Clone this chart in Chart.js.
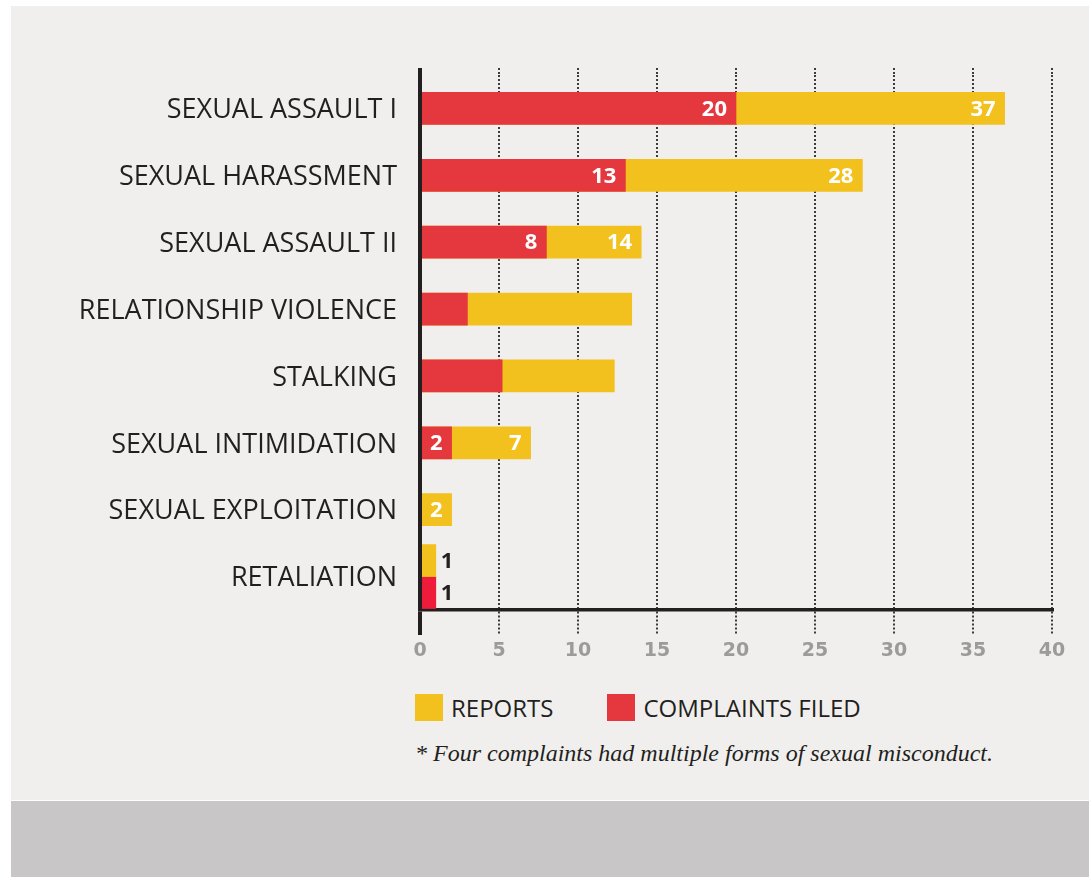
<!DOCTYPE html>
<html>
<head>
<meta charset="utf-8">
<script src="https://cdn.jsdelivr.net/npm/chart.js@4.4.1/dist/chart.umd.min.js"></script>
<style>
  body { margin: 0; background: #fff; width: 1089px; height: 877px; overflow: hidden; position: relative; }
  #panel { position: absolute; left: 11px; top: 6px; width: 1078px; height: 794px; background: #f0efed; }
  #band { position: absolute; left: 11px; top: 801px; width: 1078px; height: 76px; background: #c8c6c7; }
  #chart { position: absolute; left: 0; top: 0; }
  #legend { position: absolute; left: 415px; top: 691px; display: flex; align-items: center;
            font-family: "Open Sans", sans-serif; font-size: 24px; color: #231f20; }
  .item { display: flex; align-items: center; margin-right: 54px; }
  .box { width: 28px; height: 27px; margin-right: 8px; }
  #note { position: absolute; left: 415px; top: 740px; font-family: "Liberation Serif", serif;
          font-style: italic; font-size: 24px; color: #231f20; white-space: nowrap; }
</style>
</head>
<body>
<div id="panel"></div>
<div id="band"></div>
<canvas id="chart" width="1089" height="690"></canvas>
<div id="legend"></div>
<div id="note">* Four complaints had multiple forms of sexual misconduct.</div>
<script>
// categorias y valores
const categories = ['SEXUAL ASSAULT I', 'SEXUAL HARASSMENT', 'SEXUAL ASSAULT II', 'RELATIONSHIP VIOLENCE',
                    'STALKING', 'SEXUAL INTIMIDATION', 'SEXUAL EXPLOITATION', 'RETALIATION'];
const reports    = [37, 28, 14, 13.4, 12.3, 7, 2, 1];
const complaints = [20, 13, 8, 3, 5.2, 2, 0, 1];
const showValue  = [true, true, true, false, false, true, true, true];
const sideBySide = [false, false, false, false, false, false, false, true];
const xTicks     = [0, 5, 10, 15, 20, 25, 30, 35, 40];

const RED = '#e4373e';
const RED_SPLIT = '#ee1c3a';
const YELLOW = '#f3c11d';
const DARK = '#231f20';

// leyenda en html
const legendItems = [
    { label: 'REPORTS', color: YELLOW },
    { label: 'COMPLAINTS FILED', color: RED }
];
document.getElementById('legend').innerHTML = legendItems.map(it =>
    `<div class="item"><div class="box" style="background:${it.color}"></div><span>${it.label}</span></div>`
).join('');

// filas superpuestas vs filas lado a lado
const overComplaints = complaints.map((v, i) => (sideBySide[i] || !v) ? null : v);
const overReports    = reports.map((v, i) => sideBySide[i] ? null : v);
const splitReports   = reports.map((v, i) => sideBySide[i] ? v : null);
const splitComplaints = complaints.map((v, i) => sideBySide[i] ? v : null);

const isZero = ctx => ctx.tick && ctx.tick.value === 0;

const valueLabels = {
    id: 'valueLabels',
    afterDatasetsDraw(chart) {
        const ctx = chart.ctx;
        ctx.save();
        ctx.font = 'bold 22px "Open Sans", sans-serif';
        ctx.textBaseline = 'middle';
        chart.data.datasets.forEach((ds, di) => {
            const meta = chart.getDatasetMeta(di);
            meta.data.forEach((bar, i) => {
                const v = ds.data[i];
                if (v == null || !showValue[i]) return;
                if (ds.split) {
                    ctx.fillStyle = DARK;
                    ctx.textAlign = 'left';
                    ctx.fillText(String(v), bar.x + 5, bar.y + 1);
                } else {
                    ctx.fillStyle = '#fff';
                    ctx.textAlign = 'right';
                    ctx.fillText(String(v), bar.x - 9, bar.y + 1);
                }
            });
        });
        ctx.restore();
    }
};

// prolonga la rejilla un poco por encima del area
const gridTop = {
    id: 'gridTop',
    afterDraw(chart) {
        const ctx = chart.ctx;
        const x = chart.scales.x;
        const top = chart.chartArea.top;
        ctx.save();
        xTicks.forEach(t => {
            const px = Math.round(x.getPixelForValue(t));
            ctx.beginPath();
            if (t === 0) {
                ctx.setLineDash([]);
                ctx.lineWidth = 4;
            } else {
                ctx.setLineDash([2, 2]);
                ctx.lineWidth = 2;
            }
            ctx.strokeStyle = t === 0 ? DARK : '#3c3c3c';
            ctx.moveTo(px, top - 7);
            ctx.lineTo(px, top);
            ctx.stroke();
        });
        ctx.restore();
    }
};

new Chart(document.getElementById('chart'), {
    type: 'bar',
    data: {
        labels: categories,
        datasets: [
            { label: 'COMPLAINTS FILED', data: overComplaints, backgroundColor: RED, grouped: false },
            { label: 'REPORTS', data: overReports, backgroundColor: YELLOW, grouped: false },
            { label: 'REPORTS', data: splitReports, backgroundColor: YELLOW, split: true },
            { label: 'COMPLAINTS FILED', data: splitComplaints, backgroundColor: RED_SPLIT, split: true }
        ]
    },
    options: {
        indexAxis: 'y',
        responsive: false,
        animation: false,
        barThickness: 32,
        layout: { padding: { left: 0, right: 37, top: 75, bottom: 0 } },
        plugins: { legend: { display: false }, tooltip: { enabled: false } },
        scales: {
            x: {
                min: 0,
                max: 40,
                afterBuildTicks: s => { s.ticks = xTicks.map(v => ({ value: v })); },
                afterFit: s => { s.height = 80; },
                grid: {
                    color: ctx => isZero(ctx) ? DARK : '#3c3c3c',
                    lineWidth: ctx => isZero(ctx) ? 4 : 2,
                    tickLength: 25,
                    tickColor: ctx => isZero(ctx) ? DARK : '#3c3c3c',
                    tickWidth: ctx => isZero(ctx) ? 4 : 2,
                    tickBorderDash: ctx => isZero(ctx) ? [] : [2, 2]
                },
                border: { display: true, color: DARK, width: 3.5, dash: ctx => isZero(ctx) ? [] : [2, 2] },
                ticks: {
                    color: '#9b9b9b',
                    padding: 5,
                    font: { family: '"DejaVu Sans", sans-serif', size: 19, weight: 'bold' }
                }
            },
            y: {
                afterFit: s => { s.width = 420; },
                grid: { display: false, drawTicks: false },
                border: { display: true, color: DARK, width: 4, z: 1 },
                ticks: {
                    color: DARK,
                    padding: 23,
                    labelOffset: 2,
                    font: { family: '"Open Sans", sans-serif', size: 27, weight: 400 }
                }
            }
        }
    },
    plugins: [valueLabels, gridTop]
});
</script>
</body>
</html>
